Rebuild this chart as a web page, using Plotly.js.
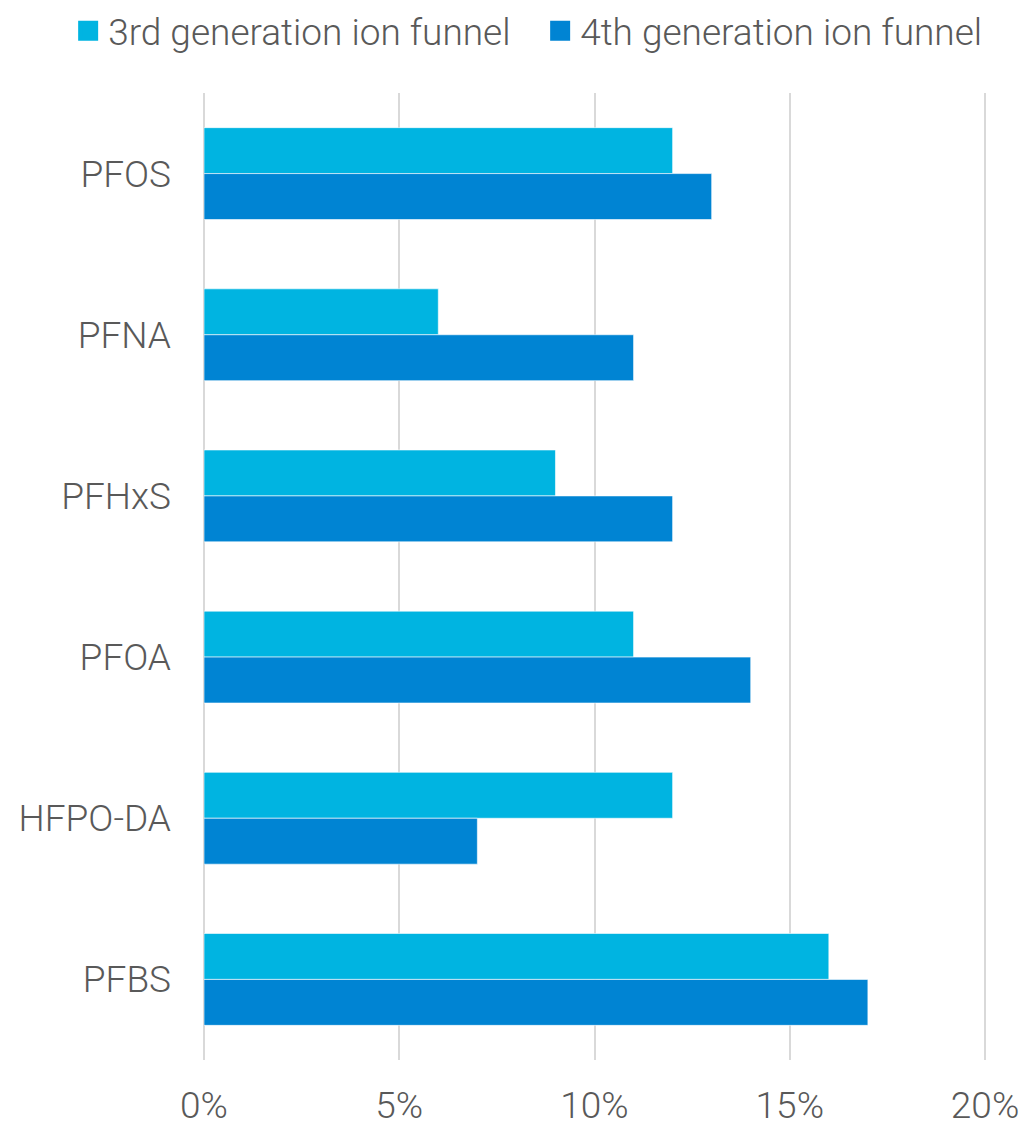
<!DOCTYPE html>
<html>
<head>
<meta charset="utf-8">
<script src="https://cdn.plot.ly/plotly-3.0.1.min.js"></script>
<style>html,body{margin:0;padding:0;background:#fff;}#chart{width:1026px;height:1123px;}</style>
</head>
<body>
<div id="chart"></div>
<script>
const categories = ["PFOS", "PFNA", "PFHxS", "PFOA", "HFPO-DA", "PFBS"];
const series3rdName = "3rd generation ion funnel";
const series4thName = "4th generation ion funnel";
const series3rd = [0.12, 0.06, 0.09, 0.11, 0.12, 0.16];
const series4th = [0.13, 0.11, 0.12, 0.14, 0.07, 0.17];
const xTickVals = [0, 0.05, 0.10, 0.15, 0.20];
const xTickText = ["0%", "5%", "10%", "15%", "20%"];
const color3rd = "#00B4E1";
const color4th = "#0084D3";

const fontBase = {family: "Roboto, 'Open Sans', sans-serif", weight: 300, color: "#595959", size: 37};

const traces = [
  {type: "bar", orientation: "h", name: series3rdName, y: categories, x: series3rd, showlegend: false,
   marker: {color: color3rd, line: {color: "rgba(255,255,255,0.6)", width: 1}}},
  {type: "bar", orientation: "h", name: series4thName, y: categories, x: series4th, showlegend: false,
   marker: {color: color4th, line: {color: "rgba(255,255,255,0.6)", width: 1}}},
  // legend entries (square markers)
  {type: "scatter", mode: "markers", name: series3rdName, x: [null], y: [null], hoverinfo: "skip",
   marker: {symbol: "square", size: 16, color: color3rd, line: {color: color3rd, width: 4}}},
  {type: "scatter", mode: "markers", name: series4thName, x: [null], y: [null], hoverinfo: "skip",
   marker: {symbol: "square", size: 16, color: color4th, line: {color: color4th, width: 4}}}
];

const layout = {
  width: 1026, height: 1123,
  margin: {l: 204, r: 39, t: 93, b: 63, autoexpand: false},
  paper_bgcolor: "#fff", plot_bgcolor: "#fff",
  font: fontBase,
  barmode: "group", bargap: 0.43, bargroupgap: 0,
  showlegend: true,
  legend: {orientation: "h", xref: "paper", yref: "paper", x: -0.1735, xanchor: "left", y: 1.096, yanchor: "top",
           font: fontBase, traceorder: "normal", itemwidth: 30, entrywidth: 427, entrywidthmode: "pixels",
           bgcolor: "rgba(0,0,0,0)"},
  xaxis: {range: [0, 0.2005], tickvals: xTickVals, ticktext: xTickText, showgrid: true, gridcolor: "#d9d9d9", gridwidth: 2,
          zeroline: true, zerolinecolor: "#d9d9d9", zerolinewidth: 2, showline: false, ticks: "", ticklabelstandoff: 20,
          tickfont: fontBase, fixedrange: true},
  yaxis: {type: "category", autorange: "reversed", showgrid: false, zeroline: false, showline: false, ticks: "",
          ticklabelstandoff: 32, tickfont: fontBase}
};

Plotly.newPlot("chart", traces, layout, {displayModeBar: false, staticPlot: true});
</script>
</body>
</html>
